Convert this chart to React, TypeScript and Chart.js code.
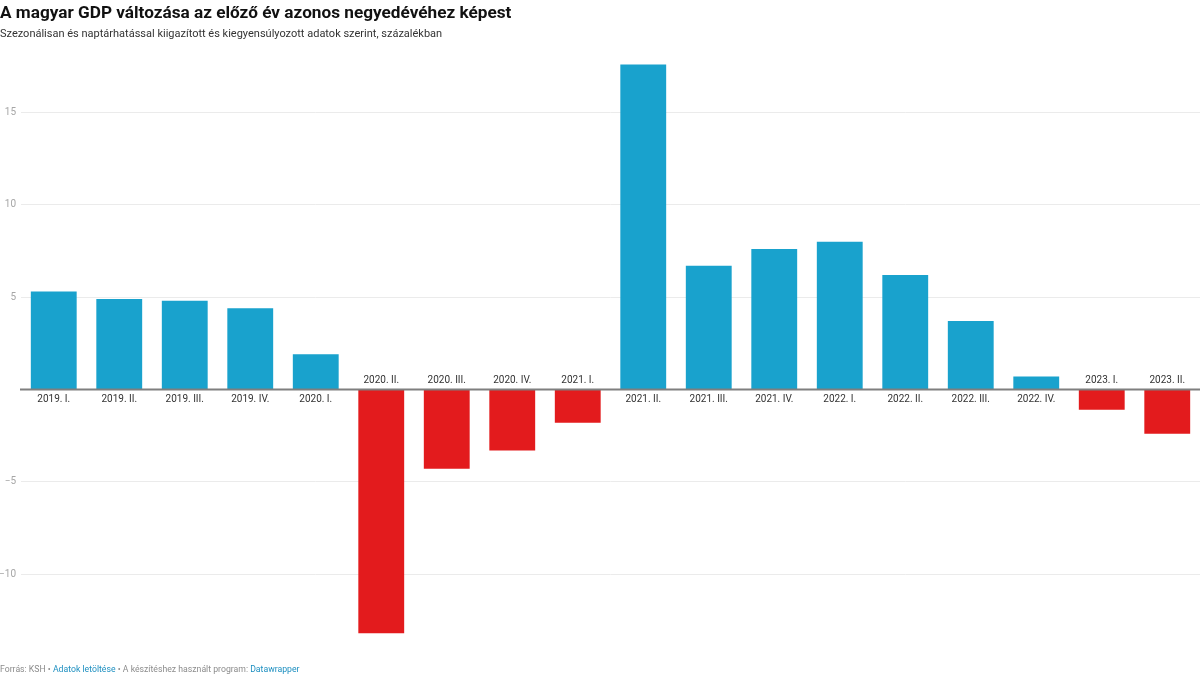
import React, { useEffect, useRef } from "react";
import { Chart, registerables } from "chart.js";

Chart.register(...registerables);

const categories = [
  "2019. I.", "2019. II.", "2019. III.", "2019. IV.",
  "2020. I.", "2020. II.", "2020. III.", "2020. IV.",
  "2021. I.", "2021. II.", "2021. III.", "2021. IV.",
  "2022. I.", "2022. II.", "2022. III.", "2022. IV.",
  "2023. I.", "2023. II.",
];
const gdpChange = [
  5.3, 4.9, 4.8, 4.4,
  1.9, -13.2, -4.3, -3.3,
  -1.8, 17.6, 6.7, 7.6,
  8.0, 6.2, 3.7, 0.7,
  -1.1, -2.4,
];
const yTicks = [15, 10, 5, -5, -10];

const BLUE = "#19a2cd";
const RED = "#e31b1d";
const FONT = "Roboto, 'Noto Sans', sans-serif";

const customPlugin = {
  id: "custom",
  afterDatasetsDraw(chart: any) {
    const ctx = chart.ctx;
    const x = chart.scales.x;
    const y = chart.scales.y;
    const area = chart.chartArea;
    const zero = y.getPixelForValue(0);
    ctx.save();
    // zero line
    ctx.strokeStyle = "#7f7f7f";
    ctx.lineWidth = 2;
    ctx.beginPath();
    ctx.moveTo(area.left - 1, zero);
    ctx.lineTo(area.right, zero);
    ctx.stroke();
    // category labels
    ctx.font = "10px " + FONT;
    ctx.fillStyle = "#333333";
    ctx.textAlign = "center";
    ctx.textBaseline = "middle";
    categories.forEach((c, i) => {
      const px = x.getPixelForValue(i);
      const py = gdpChange[i] >= 0 ? zero + 10 : zero - 9;
      ctx.fillText(c, px, py);
    });
    // y tick labels
    ctx.fillStyle = "#a6a6a6";
    ctx.textAlign = "right";
    yTicks.forEach((t) => {
      const label = t < 0 ? "\u2212" + Math.abs(t) : String(t);
      ctx.fillText(label, 16, y.getPixelForValue(t));
    });
    ctx.restore();
  },
};

export default function App() {
  const ref = useRef<HTMLCanvasElement | null>(null);
  useEffect(() => {
    document.body.style.margin = "0";
    const chart = new Chart(ref.current as HTMLCanvasElement, {
      type: "bar",
      data: {
        labels: categories,
        datasets: [
          {
            data: gdpChange,
            backgroundColor: gdpChange.map((v) => (v >= 0 ? BLUE : RED)),
            categoryPercentage: 1,
            barPercentage: 0.7,
          },
        ],
      },
      options: {
        animation: false,
        responsive: false,
        maintainAspectRatio: false,
        layout: { padding: { top: 57, bottom: 27, left: 0, right: 0 } },
        plugins: { legend: { display: false }, tooltip: { enabled: false } },
        scales: {
          x: {
            display: false,
            grid: { display: false },
          },
          y: {
            min: -14,
            max: 18,
            afterFit(scale: any) {
              scale.width = 21;
            },
            ticks: { display: false, stepSize: 5 },
            border: { display: false },
            grid: {
              drawTicks: false,
              color: (c: any) =>
                c.tick && yTicks.indexOf(c.tick.value) >= 0 ? "#ebebeb" : "rgba(0,0,0,0)",
              lineWidth: 1,
            },
          },
        },
      },
      plugins: [customPlugin],
    });
    return () => chart.destroy();
  }, []);

  return (
    <div style={{ position: "relative", width: 1200, height: 675, fontFamily: FONT, overflow: "hidden" }}>
      <canvas ref={ref} width={1200} height={675} style={{ position: "absolute", left: 0, top: 0 }} />
      <div style={{ position: "absolute", left: 0, top: 1, fontSize: 17.2, fontWeight: 700, color: "#111", lineHeight: "22px", whiteSpace: "nowrap" }}>
        A magyar GDP változása az előző év azonos negyedévéhez képest
      </div>
      <div style={{ position: "absolute", left: 0, top: 27, fontSize: 11, color: "#333", lineHeight: "14px", whiteSpace: "nowrap" }}>
        Szezonálisan és naptárhatással kiigazított és kiegyensúlyozott adatok szerint, százalékban
      </div>
      <div style={{ position: "absolute", left: 0, top: 663, fontSize: 8.7, color: "#8c8c8c", lineHeight: "12px", whiteSpace: "nowrap" }}>
        Forrás: KSH • <span style={{ color: "#1d8fc0" }}>Adatok letöltése</span> • A készítéshez használt program:{" "}
        <span style={{ color: "#1d8fc0" }}>Datawrapper</span>
      </div>
    </div>
  );
}
